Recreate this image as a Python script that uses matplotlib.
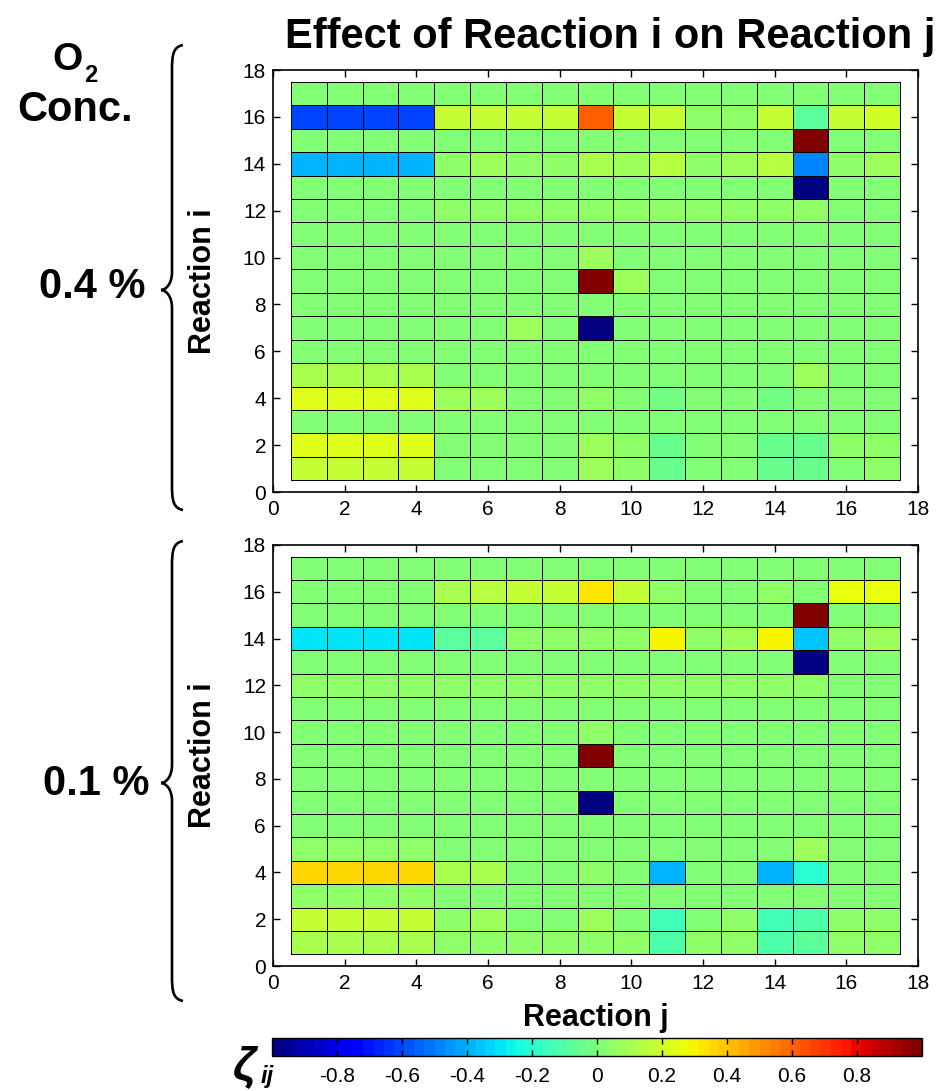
import numpy as np
import matplotlib
matplotlib.use("Agg")
import matplotlib.pyplot as plt
from matplotlib.path import Path
from matplotlib.patches import PathPatch

plt.rcParams["font.family"] = ["Liberation Sans", "DejaVu Sans"]

# Reaction indices (i on y, j on x)
reactions = np.arange(1, 18)
ticks = np.arange(0, 19, 2)
cbar_ticks = [-0.8, -0.6, -0.4, -0.2, 0, 0.2, 0.4, 0.6, 0.8]
conc_labels = ["0.4 %", "0.1 %"]

# zeta_ij, O2 = 0.4 %; rows listed from reaction i=17 (top) down to i=1
zeta_04 = [
    [0] * 17,
    [-0.62] * 4 + [0.17, 0.17, 0.17, 0.17, 0.61, 0.17, 0.17, 0.05, 0.05, 0.17, -0.08, 0.17, 0.2],
    [0] * 14 + [0.97, 0, 0],
    [-0.4] * 4 + [0.06, 0.07, 0.06, 0.06, 0.1, 0.07, 0.15, 0.06, 0.07, 0.15, -0.5, 0.05, 0.08],
    [0] * 14 + [-0.97, 0, 0],
    [0] * 4 + [0.06] * 11 + [0, 0],
    [0] * 17,
    [0] * 8 + [0.07] + [0] * 8,
    [0] * 8 + [0.97, 0.07] + [0] * 7,
    [0] * 17,
    [0] * 6 + [0.07, 0, -0.97] + [0] * 8,
    [0] * 17,
    [0.1] * 4 + [0] * 10 + [0.07, 0, 0],
    [0.22] * 4 + [0.07, 0.08, 0, 0, 0.05, 0, -0.03, 0, 0, -0.03, 0, 0, 0],
    [0] * 17,
    [0.22] * 4 + [0.03, 0.03, 0.03, 0.03, 0.08, 0.06, -0.04, 0, 0, -0.04, -0.04, 0.05, 0.06],
    [0.18] * 4 + [0.02, 0.02, 0.02, 0.02, 0.08, 0.06, -0.05, 0, 0, -0.04, -0.04, 0.03, 0.05],
]

# zeta_ij, O2 = 0.1 %
zeta_01 = [
    [0] * 17,
    [0] * 4 + [0.12, 0.13, 0.16, 0.16, 0.33, 0.16, 0.05, 0, 0, 0.05, 0, 0.27, 0.27],
    [0] * 14 + [0.97, 0, 0],
    [-0.3] * 4 + [-0.07, -0.07, 0.06, 0.06, 0.06, 0.06, 0.3, 0.05, 0.07, 0.3, -0.37, 0.06, 0.08],
    [0] * 14 + [-0.97, 0, 0],
    [0.06] * 15 + [0, 0],
    [0] * 17,
    [0] * 8 + [0.05] + [0] * 8,
    [0] * 8 + [0.97] + [0] * 8,
    [0] * 17,
    [0] * 8 + [-0.97] + [0] * 8,
    [0] * 17,
    [0.06] * 4 + [0] * 10 + [0.08, 0, 0],
    [0.37] * 4 + [0.11, 0.12, 0, 0, 0.04, 0, -0.4, 0, 0, -0.4, -0.2, 0, 0],
    [0.04] * 4 + [0] * 13,
    [0.16] * 4 + [0.06, 0.07, 0, 0, 0.07, 0.03, -0.15, 0, 0.05, -0.15, -0.11, 0.04, 0.05],
    [0.12] * 4 + [0.05, 0.05, 0.05, 0.05, 0.06, 0.06, -0.1, 0.05, 0.05, -0.1, -0.08, 0.05, 0.05],
]

W, H = 945, 1091


def fbox(left, top, right, bottom):
    return [left / W, 1 - bottom / H, (right - left) / W, (bottom - top) / H]


def brace(ax, ytop, ybot, ymid, x0=183, xm=172, xt=161):
    verts = [
        (x0, ytop),
        (xm + 1, ytop + 2), (xm, ytop + 10), (xm, ytop + 25),
        (xm, ymid - 18),
        (xm, ymid - 5), (xt + 4, ymid), (xt, ymid),
        (xt + 4, ymid), (xm, ymid + 5), (xm, ymid + 18),
        (xm, ybot - 25),
        (xm, ybot - 10), (xm + 1, ybot - 2), (x0, ybot),
    ]
    codes = [Path.MOVETO] + [Path.CURVE4] * 3 + [Path.LINETO] + [Path.CURVE4] * 6 \
        + [Path.LINETO] + [Path.CURVE4] * 3
    ax.add_patch(PathPatch(Path(verts, codes), fill=False, lw=1.9, color="black"))


cmap = plt.get_cmap("jet", 64)
fig = plt.figure(figsize=(W / 100, H / 100), dpi=100)

edges = np.arange(0.5, 18.5, 1.0)
axes = [fig.add_axes(fbox(273, 70, 918, 492)), fig.add_axes(fbox(273, 545, 918, 966))]
mesh = None
for ax, data in zip(axes, [zeta_04, zeta_01]):
    z = np.array(data, dtype=float)[::-1]
    mesh = ax.pcolormesh(edges, edges, z, cmap=cmap, vmin=-1, vmax=1,
                         edgecolors="black", linewidth=0.6)
    ax.set_xlim(0, 18)
    ax.set_ylim(0, 18)
    ax.set_xticks(ticks)
    ax.set_yticks(ticks)
    ax.tick_params(direction="in", length=5, width=1, top=True, right=True,
                   labelsize=15)
    ax.tick_params(axis="x", pad=6)
    ax.tick_params(axis="y", pad=5)
    for s in ax.spines.values():
        s.set_linewidth(1.2)
    ax.set_ylabel("Reaction i", fontsize=22, fontweight="bold")
    ax.yaxis.set_label_coords(-0.085, 0.5)

axes[0].set_title("Effect of Reaction i on Reaction j", fontsize=30,
                  fontweight="bold", pad=16, x=0.523)
axes[1].set_xlabel("Reaction j", fontsize=22, fontweight="bold")
axes[1].xaxis.set_label_coords(0.5, -0.088)

cax = fig.add_axes(fbox(272, 1038, 922, 1056))
cb = fig.colorbar(mesh, cax=cax, orientation="horizontal", ticks=cbar_ticks)
cb.ax.set_xticklabels(["0" if t == 0 else f"{t:g}" for t in cbar_ticks])
cb.ax.tick_params(direction="in", length=4, width=1, top=True, bottom=True,
                  labelsize=15, pad=8)
cb.outline.set_linewidth(1.0)

# annotation layer in pixel coordinates
over = fig.add_axes([0, 0, 1, 1], zorder=-1)
over.set_xlim(0, W)
over.set_ylim(H, 0)
over.axis("off")
brace(over, 45, 510, 290)
brace(over, 541, 1001, 783)

over.text(67, 60, "O", fontsize=28, fontweight="bold", ha="center", va="center")
over.text(91, 76, "2", fontsize=17, fontweight="bold", ha="center", va="center")
over.text(75, 110, "Conc.", fontsize=30, fontweight="bold", ha="center", va="center")
over.text(92, 287, conc_labels[0], fontsize=30, fontweight="bold", ha="center", va="center")
over.text(96, 784, conc_labels[1], fontsize=30, fontweight="bold", ha="center", va="center")

over.text(245, 1067, "\u03b6", fontsize=34, fontweight="bold", fontstyle="italic",
          ha="center", va="center")
over.text(267, 1077, "ij", fontsize=17, fontweight="bold", fontstyle="italic",
          ha="center", va="center")

fig.savefig("out.png", dpi=100)
